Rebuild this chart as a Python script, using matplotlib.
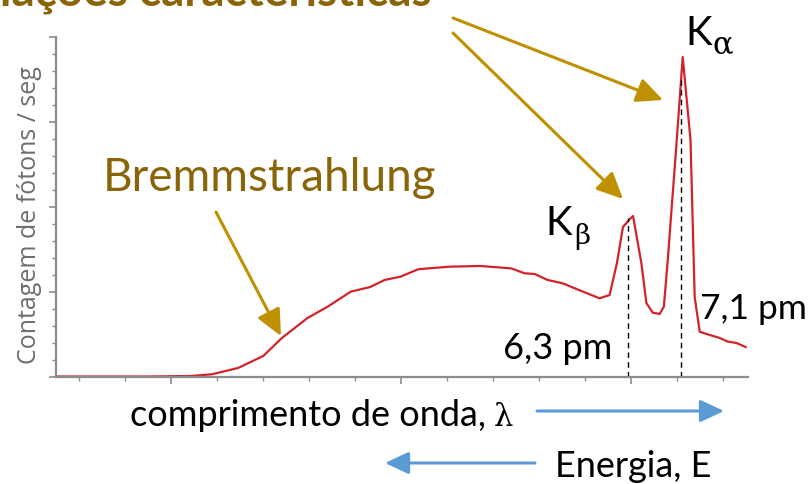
import numpy as np
import matplotlib.pyplot as plt
from matplotlib.ticker import MultipleLocator
plt.close('all')

# spectrum read along the wavelength axis (arbitrary units)
wavelength = [0.0, 0.96, 2.04, 2.94, 3.39, 3.96, 4.51, 4.91, 5.47, 5.91, 6.41,
              6.83, 7.15, 7.49, 7.88, 8.56, 9.23, 9.90, 10.19, 10.41, 10.69,
              11.02, 11.37, 11.82, 12.04, 12.20, 12.33, 12.48, 12.55, 12.73,
              12.84, 12.98, 13.13, 13.22, 13.30, 13.49, 13.63, 13.80, 13.89,
              14.0, 14.22, 14.44, 14.61, 14.80, 15.0]
counts = [0.03, 0.03, 0.03, 0.06, 0.16, 0.53, 1.24, 2.29, 3.47, 4.14, 5.02,
          5.29, 5.71, 5.90, 6.34, 6.49, 6.53, 6.39, 6.10, 6.06, 5.71,
          5.51, 5.12, 4.63, 4.82, 6.71, 8.82, 9.29, 9.47, 6.71,
          4.35, 3.78, 3.71, 4.14, 6.71, 13.55, 18.82, 13.94, 4.72,
          2.66, 2.47, 2.29, 2.08, 2.0, 1.76]

# characteristic lines: position and height of the dashed markers
line_pos = [12.435, 13.587]
line_top = [9.35, 17.5]
line_labels = ['6,3 pm', '7,1 pm']

W, H = 810, 484
fig = plt.figure(figsize=(W / 100, H / 100), dpi=100)
ax = fig.add_axes([56 / W, 1 - 377 / H, (748 - 56) / W, (377 - 37) / H])

def fpos(x, y):
    return x / W, 1 - y / H

ax.plot(wavelength, counts, color='#d2232a', lw=1.6)
for xp, top in zip(line_pos, line_top):
    ax.plot([xp, xp], [0, top], color='black', lw=1.0, ls=(0, (4, 3)))

ax.set_xlim(0, 15.05)
ax.set_ylim(0, 20)
ax.set_xticks(np.arange(2.5, 15, 5))
ax.set_xticks(np.arange(0.5, 15, 1), minor=True)
ax.set_yticks(np.arange(0, 21, 5))
ax.yaxis.set_minor_locator(MultipleLocator(1))
ax.set_xticklabels([])
ax.set_yticklabels([])
for s in ['top', 'right']:
    ax.spines[s].set_visible(False)
for s in ['left', 'bottom']:
    ax.spines[s].set_color('#8c8c8c')
    ax.spines[s].set_linewidth(1.6)
ax.tick_params(which='major', length=5, width=1.2, color='#8c8c8c')
ax.tick_params(which='minor', length=3, width=1.0, color='#8c8c8c')

gold = '#8a6508'
arrow_gold = '#bf9000'
sans = 'Lato'

fig.text(*fpos(30, 215), 'Contagem de fótons / seg', rotation=90,
         ha='center', va='center', fontsize=18, color='#6e6e6e',
         family='Open Sans')

fig.text(*fpos(432, 6), 'Radiações características', ha='right',
         va='baseline', fontsize=33, color=gold, family=sans, weight='bold')
fig.text(*fpos(103, 191), 'Bremmstrahlung', ha='left', va='baseline',
         fontsize=33, color=gold, family=sans)

fig.text(*fpos(685, 45), 'K', ha='left', va='baseline', fontsize=29,
         family=sans)
fig.text(*fpos(713, 53), 'α', ha='left', va='baseline', fontsize=22,
         family='DejaVu Serif')
fig.text(*fpos(545, 235), 'K', ha='left', va='baseline', fontsize=29,
         family=sans)
fig.text(*fpos(574, 244), 'β', ha='left', va='baseline', fontsize=20,
         family='DejaVu Serif')

fig.text(*fpos(612, 359), line_labels[0], ha='right', va='baseline',
         fontsize=26, family=sans)
fig.text(*fpos(700, 319), line_labels[1], ha='left', va='baseline',
         fontsize=25.5, family=sans)

xlab = fig.text(*fpos(130, 426), 'comprimento de onda,', ha='left',
                va='baseline', fontsize=26, family=sans)
fig.canvas.draw()
xlab_end = xlab.get_window_extent().x1
fig.text((xlab_end + 8) / W, 1 - 426 / H, 'λ', ha='left', va='baseline',
         fontsize=22, family='DejaVu Serif')
fig.text(*fpos(555, 477), 'Energia, E', ha='left', va='baseline',
         fontsize=26, family=sans)

def arrow(x0, y0, x1, y1, color, lw, hw):
    ax.annotate('', xy=(x1, H - y1), xytext=(x0, H - y0),
                xycoords='figure pixels', textcoords='figure pixels',
                arrowprops=dict(arrowstyle='-|>,head_length=%g,head_width=%g'
                                % (hw * 1.6, hw * 0.75),
                                color=color, lw=lw, shrinkA=0, shrinkB=0,
                                mutation_scale=10),
                annotation_clip=False)

arrow(216, 212, 281, 336, arrow_gold, 2.2, 1.0)
arrow(453, 18, 663, 100, arrow_gold, 2.2, 1.0)
arrow(453, 33, 623, 199, arrow_gold, 2.2, 1.0)
arrow(537, 411, 724, 411, '#5b9bd5', 2.2, 0.9)
arrow(535, 463, 385, 463, '#5b9bd5', 2.2, 0.9)

fig.savefig('out.png', dpi=100)
